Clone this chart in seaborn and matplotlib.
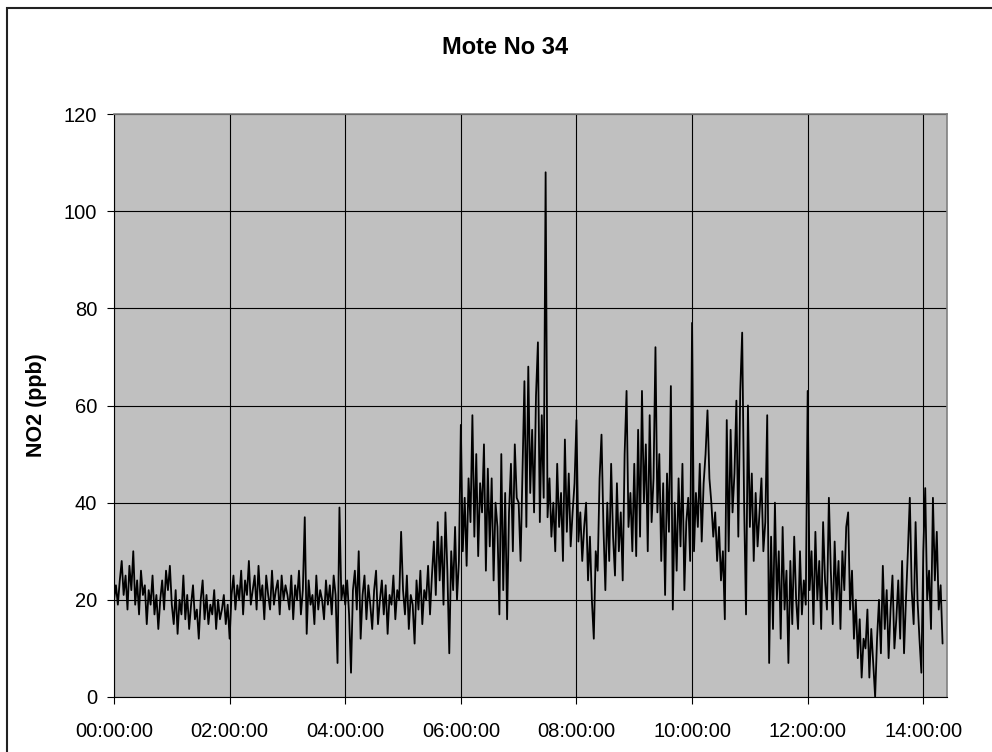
import numpy as np
import pandas as pd
import matplotlib
matplotlib.use("Agg")
import matplotlib.pyplot as plt
import seaborn as sns
from matplotlib.patches import Rectangle

# NO2 readings (ppb), one reading every 2 minutes, grouped by hour
h00 = [20, 23, 19, 24, 28, 21, 25, 18, 27, 22, 30, 19, 24, 17, 26, 21, 23, 15, 22, 19, 25, 17, 21, 14, 20, 24, 18, 26, 22, 27]
h01 = [19, 15, 22, 13, 20, 17, 25, 16, 21, 14, 19, 23, 16, 18, 12, 20, 24, 16, 21, 15, 19, 17, 22, 14, 20, 16, 18, 21, 15, 19]
h02 = [12, 21, 25, 18, 23, 20, 26, 17, 24, 21, 28, 19, 22, 25, 18, 27, 20, 23, 16, 25, 21, 18, 26, 19, 22, 24, 17, 25, 20, 23]
h03 = [21, 18, 25, 16, 23, 20, 26, 17, 22, 37, 13, 24, 19, 21, 15, 25, 18, 22, 20, 16, 24, 19, 23, 17, 25, 21, 7, 39, 20, 23]
h04 = [19, 24, 17, 5, 22, 26, 18, 30, 12, 21, 25, 16, 23, 19, 14, 22, 26, 15, 20, 24, 17, 23, 13, 21, 19, 25, 16, 22, 20, 34]
h05 = [22, 17, 25, 14, 21, 19, 11, 24, 18, 26, 15, 22, 20, 27, 17, 25, 32, 21, 36, 24, 33, 19, 38, 26, 9, 30, 22, 35, 20, 28]
h06 = [56, 30, 41, 27, 45, 36, 58, 33, 50, 29, 44, 38, 52, 26, 47, 31, 45, 24, 40, 35, 17, 50, 22, 42, 16, 38, 48, 30, 52, 41]
h07 = [40, 28, 46, 65, 35, 68, 42, 55, 38, 62, 73, 36, 58, 41, 108, 37, 45, 33, 40, 30, 48, 35, 42, 28, 53, 34, 46, 31, 38, 44]
h08 = [57, 32, 38, 28, 35, 40, 24, 33, 20, 12, 30, 26, 45, 54, 35, 22, 40, 28, 48, 33, 25, 44, 30, 38, 24, 50, 63, 35, 42, 30]
h09 = [48, 29, 55, 33, 63, 40, 52, 30, 58, 36, 45, 72, 38, 50, 28, 44, 21, 46, 34, 64, 18, 40, 26, 45, 31, 48, 22, 36, 41, 28]
h10 = [77, 30, 42, 35, 48, 32, 44, 50, 59, 45, 40, 33, 38, 28, 35, 24, 30, 16, 57, 30, 55, 38, 46, 61, 33, 63, 75, 40, 17, 60]
h11 = [35, 46, 28, 42, 31, 38, 45, 30, 36, 58, 7, 33, 14, 40, 20, 30, 12, 35, 18, 26, 7, 28, 15, 33, 20, 14, 30, 17, 24, 19]
h12 = [63, 22, 30, 15, 34, 20, 28, 14, 36, 24, 18, 41, 26, 15, 32, 20, 28, 14, 30, 22, 35, 38, 18, 26, 12, 20, 8, 16, 4, 12]
h13 = [10, 18, 4, 14, 7, 0, 12, 20, 9, 27, 14, 22, 8, 18, 25, 10, 16, 24, 12, 28, 9, 20, 30, 41, 22, 15, 36, 20, 12, 5]
h14 = [30, 43, 20, 26, 14, 41, 24, 34, 18, 23, 11]

x_tick_labels = ["00:00:00", "02:00:00", "04:00:00", "06:00:00", "08:00:00",
                 "10:00:00", "12:00:00", "14:00:00"]
y_ticks = [0, 20, 40, 60, 80, 100, 120]
title = "Mote No 34"
ylabel = "NO2 (ppb)"

values = h00 + h01 + h02 + h03 + h04 + h05 + h06 + h07 + h08 + h09 + h10 + h11 + h12 + h13 + h14
hours = np.arange(len(values)) * 2 / 60.0
df = pd.DataFrame({"hour": hours, "no2": values})

sns.set_theme(style="white")
plt.rcParams["font.family"] = ["Liberation Sans", "DejaVu Sans"]

fig = plt.figure(figsize=(9.92, 7.52), dpi=100)
ax = fig.add_axes([114 / 992, 1 - 697 / 752, (947 - 114) / 992, (697 - 114) / 752])
ax.set_facecolor("#C0C0C0")

sns.lineplot(data=df, x="hour", y="no2", ax=ax, color="black", linewidth=1.3)

ax.set_xlim(0, 14.41)
ax.set_ylim(0, 120)
ax.set_xticks(np.arange(0, 15, 2))
ax.set_xticklabels(x_tick_labels)
ax.set_yticks(y_ticks)
ax.grid(True, color="black", linewidth=0.8)
ax.set_axisbelow(True)

ax.tick_params(axis="both", which="both", direction="out", length=5, width=0.8,
               color="black", labelsize=14.5, labelcolor="black", bottom=True, left=True)
ax.tick_params(axis="x", pad=13)
ax.tick_params(axis="y", pad=7)

for side in ["left", "bottom"]:
    ax.spines[side].set_color("black")
    ax.spines[side].set_linewidth(0.8)
for side in ["top", "right"]:
    ax.spines[side].set_color("#808080")
    ax.spines[side].set_linewidth(1.2)

ax.set_xlabel("")
ax.set_ylabel(ylabel, fontsize=15.5, fontweight="bold", color="black", labelpad=12)
fig.text(505 / 992, 1 - 48 / 752, title, ha="center", va="center",
         fontsize=17, fontweight="bold", color="black")

fig.patches.append(Rectangle((7 / 992, -0.05), 1.05, 1 - 8 / 752 + 0.05,
                             transform=fig.transFigure, fill=False,
                             edgecolor="#222222", linewidth=1.5))

fig.savefig("out.png", dpi=100)
